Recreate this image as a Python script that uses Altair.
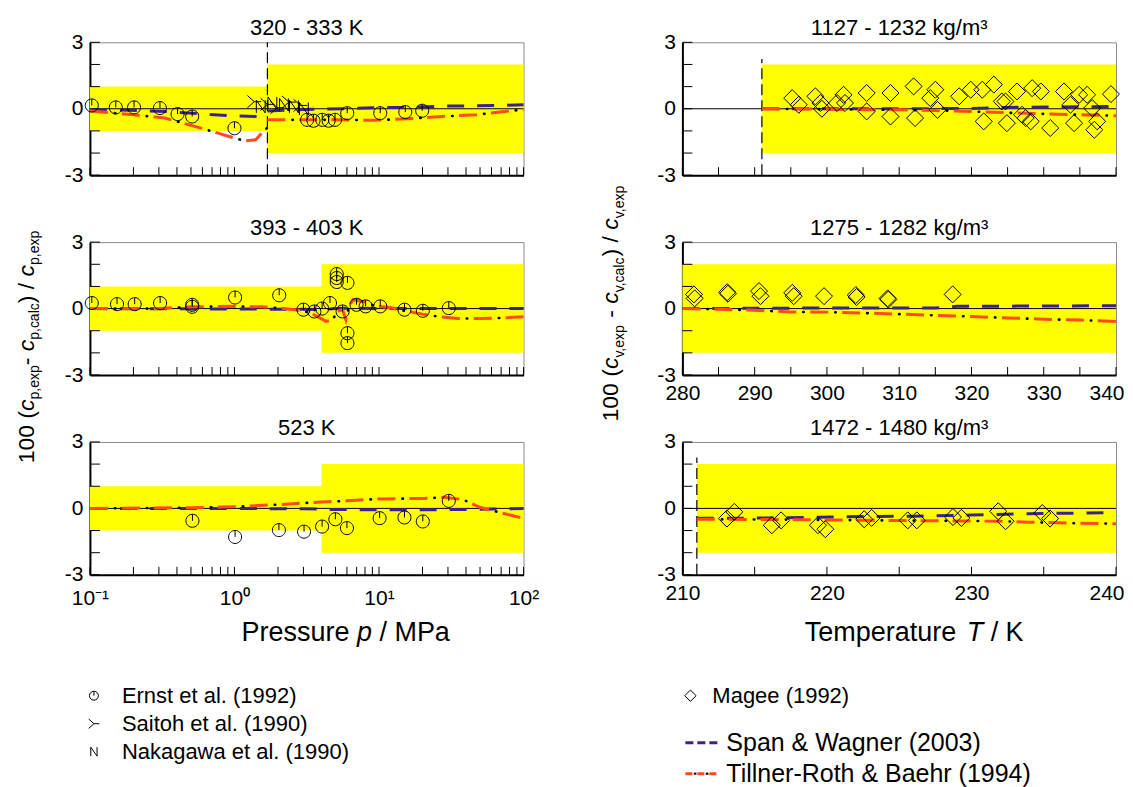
import altair as alt
import pandas as pd

FONT = "Liberation Sans"
YELLOW = "#FFFF00"
SW_COLOR = "#3B2190"
TRB_COLOR = "#FF4A1C"
W, H = 434, 133

# ---------------- data ----------------
# left column: c_p deviations vs pressure (MPa)
l1_title = "320 - 333 K"
l1_ernst_p = [0.103, 0.151, 0.202, 0.305, 0.404, 0.51, 1.0, 3.18, 3.52, 4.05, 4.48, 4.96, 6.03, 10.2, 15.2, 19.9]
l1_ernst_d = [0.15, 0.06, 0.06, 0.03, -0.24, -0.35, -0.88, -0.5, -0.54, -0.5, -0.54, -0.5, -0.2, -0.2, -0.15, -0.09]
l1_saitoh_p = [1.37, 1.69, 1.98, 2.38, 2.86]
l1_saitoh_d = [0.32, 0.2, 0.05, 0.3, 0.15]
l1_nakagawa_p = [1.52, 1.83, 2.2, 2.58, 3.02]
l1_nakagawa_d = [0.1, 0.25, 0.18, 0.1, 0.0]
l1_sw_gas_p = [0.1, 0.15, 0.33, 0.58, 0.97, 1.52, 1.69]
l1_sw_gas_d = [-0.05, -0.05, -0.12, -0.23, -0.32, -0.35, -0.35]
l1_sw_liq_p = [1.69, 2.5, 3.5, 5.6, 9.2, 16, 27, 47, 100]
l1_sw_liq_d = [-0.1, -0.05, -0.02, 0.0, 0.05, 0.06, 0.12, 0.13, 0.18]
l1_trb_gas_p = [0.1, 0.2, 0.33, 0.57, 0.92, 1.17, 1.4, 1.6, 1.69]
l1_trb_gas_d = [-0.1, -0.27, -0.42, -0.85, -1.25, -1.45, -1.4, -1.0, -0.85]
l1_trb_liq_p = [1.69, 3, 5.5, 9.2, 16, 27, 47, 86, 100]
l1_trb_liq_d = [-0.5, -0.5, -0.5, -0.52, -0.45, -0.35, -0.27, -0.08, -0.04]
l1_psat = 1.69
l1_band_x0 = [0.1, 1.69]
l1_band_x1 = [1.69, 100]
l1_band_u = [1, 2]

l2_title = "393 - 403 K"
l2_ernst_p = [0.103, 0.154, 0.204, 0.306, 0.51, 0.51, 1.01, 2.04, 3.0, 3.57, 4.04, 4.58, 5.1, 5.1, 5.1,
              6.05, 5.6, 6.05, 6.05, 6.99, 8.08, 10.2, 15.0, 20.1, 30.4]
l2_ernst_d = [0.25, 0.2, 0.2, 0.25, 0.17, 0.08, 0.5, 0.6, -0.05, -0.13, 0.0, 0.25, 1.56, 1.38, 1.2,
              1.16, -0.13, -1.11, -1.56, 0.17, 0.1, 0.1, -0.05, -0.1, 0.02]
l2_sw_p = [0.1, 1, 3, 4, 5, 6, 10, 100]
l2_sw_d = [0, -0.02, -0.03, -0.05, 0, 0.02, 0, 0]
l2_trb_p = [0.1, 0.3, 0.5, 1, 1.5, 2, 3, 3.6, 4.3, 4.8, 5.1, 5.6, 5.9, 6.2, 6.6, 8, 9.5, 12, 15, 20, 25, 35, 50, 70, 100]
l2_trb_d = [0, 0, 0.08, 0.1, 0.08, 0.03, -0.1, -0.3, -0.58, -0.5, -0.15, -0.05, -0.5, 0.1, 0.4, 0.3, 0.1, 0.05,
            -0.1, -0.25, -0.35, -0.45, -0.45, -0.42, -0.37]
l2_band_x0 = [0.1, 4.0]
l2_band_x1 = [4.0, 100]
l2_band_u = [1, 2]

l3_title = "523 K"
l3_ernst_p = [0.512, 1.01, 2.03, 3.03, 4.04, 4.99, 6.0, 10.1, 15.0, 20.1, 30.4]
l3_ernst_d = [-0.56, -1.29, -0.98, -1.05, -0.82, -0.49, -0.89, -0.44, -0.41, -0.59, 0.34]
l3_sw_p = [0.1, 1, 3, 5, 10, 20, 40, 60, 100]
l3_sw_d = [0, 0, -0.02, -0.05, -0.06, -0.06, -0.05, -0.03, 0]
l3_trb_p = [0.1, 0.5, 1, 2, 4, 6, 10, 20, 28, 38, 50, 70, 100]
l3_trb_d = [0, 0.03, 0.08, 0.17, 0.29, 0.34, 0.43, 0.45, 0.5, 0.4, 0.05, -0.2, -0.45]
l3_band_x0 = [0.1, 4.0]
l3_band_x1 = [4.0, 100]
l3_band_u = [1, 2]

# right column: c_v deviations vs temperature (K)
r1_title = "1127 - 1232 kg/m\u00b3"
r1_magee_T = [295.2, 296.1, 298.4, 299.1, 299.3, 301.4, 302.3, 302.5, 305.5, 305.5, 308.8, 308.8, 312.0, 312.2,
              314.3, 315.0, 315.3, 318.3, 319.9, 321.5, 321.7, 323.1, 324.2, 324.7, 324.9, 326.3, 327.0, 327.5,
              328.2, 328.4, 329.6, 330.9, 332.8, 333.7, 334.2, 334.9, 336.0, 336.7, 337.0, 337.4, 339.3]
r1_magee_d = [0.48, 0.18, 0.56, 0.26, 0.0, 0.26, 0.63, 0.26, 0.71, -0.12, 0.71, -0.35, 1.01, -0.42, 0.48, 0.86,
              -0.05, 0.56, 0.86, 0.86, -0.57, 1.09, 0.33, 0.33, -0.65, 0.78, -0.27, -0.42, -0.57, 0.93, 0.78,
              -0.87, 0.78, 0.18, -0.65, 0.63, 0.63, 0.03, -0.95, -0.57, 0.66]
r1_sw_T = [291, 305, 320, 325, 340]
r1_sw_d = [0, 0, 0.01, 0.06, 0.1]
r1_trb_T = [291, 300, 305, 310, 315, 320, 325, 330, 335, 340]
r1_trb_d = [0, -0.02, -0.04, -0.05, -0.08, -0.12, -0.18, -0.23, -0.27, -0.32]
r1_tlim = 291
r1_band_x0 = [291]
r1_band_x1 = [340]
r1_band_u = [2]

r2_title = "1275 - 1282 kg/m\u00b3"
r2_magee_T = [281.6, 281.7, 286.2, 286.3, 290.6, 290.8, 295.2, 295.4, 299.6, 304.0, 304.1, 308.4, 308.5, 317.4]
r2_magee_d = [0.64, 0.46, 0.74, 0.67, 0.79, 0.56, 0.71, 0.56, 0.56, 0.61, 0.52, 0.46, 0.41, 0.64]
r2_sw_T = [280, 295, 315, 318, 340]
r2_sw_d = [0, 0.02, 0.03, 0.1, 0.13]
r2_trb_T = [280, 285, 290, 295, 300, 305, 310, 315, 320, 325, 330, 335, 340]
r2_trb_d = [0, -0.03, -0.08, -0.15, -0.16, -0.2, -0.25, -0.31, -0.36, -0.42, -0.48, -0.52, -0.58]
r2_band_x0 = [280]
r2_band_x1 = [340]
r2_band_u = [2]

r3_title = "1472 - 1480 kg/m\u00b3"
r3_magee_T = [213.08, 213.59, 216.19, 216.83, 219.38, 219.89, 222.58, 223.09, 225.59, 226.22, 228.72, 229.30,
              231.85, 232.36, 234.9, 235.44]
r3_magee_d = [-0.46, -0.16, -0.76, -0.54, -0.76, -0.94, -0.49, -0.43, -0.54, -0.54, -0.39, -0.43, -0.13,
              -0.58, -0.21, -0.46]
r3_sw_T = [211, 217, 221, 226, 230, 234, 240]
r3_sw_d = [-0.45, -0.43, -0.38, -0.35, -0.3, -0.24, -0.19]
r3_trb_T = [211, 216, 222, 226, 232, 234, 237, 240]
r3_trb_d = [-0.49, -0.5, -0.53, -0.55, -0.58, -0.62, -0.67, -0.69]
r3_tlim = 211
r3_band_x0 = [211]
r3_band_x1 = [240]
r3_band_u = [2]

# tick positions
log_ticks = [0.1, 0.2, 0.3, 0.4, 0.5, 0.6, 0.7, 0.8, 0.9, 1, 2, 3, 4, 5, 6, 7, 8, 9,
             10, 20, 30, 40, 50, 60, 70, 80, 90, 100]
log_labels = [0.1, 1, 10, 100]
r12_ticks = [280, 285, 290, 295, 300, 305, 310, 315, 320, 325, 330, 335, 340]
r12_labels = [280, 290, 300, 310, 320, 330, 340]
r3_ticks = [210, 215, 220, 225, 230, 235, 240]
r3_labels = [210, 220, 230, 240]
y_ticks = [-3, -2, -1, 0, 1, 2, 3]
y_labels = [-3, 0, 3]

legend_left = ["Ernst et al. (1992)", "Saitoh et al. (1990)", "Nakagawa et al. (1990)"]
legend_right = ["Magee (1992)", "Span & Wagner (2003)", "Tillner-Roth & Baehr (1994)"]

# ---------------- helpers ----------------
ERNST = "M-1,0A1,1,0,1,1,1,0A1,1,0,1,1,-1,0ZM0,-1L0,0"
SAITOH = "M-1,-0.9L0,0L-1,0.9M0,0L1,0"
NAKAGAWA = "M-0.7,1L-0.7,-1L0.7,1L0.7,-1"

YS = alt.Scale(domain=[-3, 3], nice=False, zero=False)
LOGS = alt.Scale(type="log", domain=[0.1, 100], nice=False)
R12S = alt.Scale(domain=[280, 340], nice=False, zero=False)
R3S = alt.Scale(domain=[210, 240], nice=False, zero=False)
ONE = pd.DataFrame({"k": [0]})

AW = {"0": .556, "1": .556, "2": .556, "3": .556, "4": .556, "5": .556, "6": .556, "7": .556, "8": .556,
      "9": .556, " ": .278, "(": .333, ")": .333, "/": .278, "-": .333, ",": .278, "c": .5, "p": .556,
      "e": .556, "x": .5, "a": .556, "l": .222, "v": .5, "P": .667, "r": .333, "s": .5, "u": .556,
      "M": .833, "T": .611, "m": .833, "t": .278, "K": .667}


def tw(s, size):
    return sum(AW.get(ch, 0.556) for ch in s) * size


def axis_common(**kw):
    base = dict(ticks=False, grid=False, domainColor="black", domainWidth=2, labelFont=FONT,
                labelFontSize=21, labelColor="black", labelFlush=False, labelOverlap=False, title=None)
    base.update(kw)
    return alt.Axis(**base)


YAX = axis_common(values=y_labels, labelPadding=7, labelExpr="datum.value < 0 ? '-3' : datum.label")


def line_df(segs):
    rows = []
    for k, (xs, ds) in enumerate(segs):
        for i, (x, d) in enumerate(zip(xs, ds)):
            rows.append({"x": x, "y": d, "seg": k, "i": i})
    return pd.DataFrame(rows)


def txt(text, x, y, size, style="normal", angle=0, align="left", baseline="alphabetic"):
    return alt.Chart(ONE).mark_text(text=text, font=FONT, fontSize=size, fontStyle=style, angle=angle,
                                    align=align, baseline=baseline, color="black").encode(
        x=alt.value(x), y=alt.value(y))


def panel(title, xs, xax, band, ticks, sw_segs, trb_segs, markers, vline=None, extra=()):
    x0, x1, u = band
    bdf = pd.DataFrame({"x0": x0, "x1": x1, "lo": [-v for v in u], "hi": u})
    X = lambda f: alt.X(f, scale=xs, axis=xax)
    Y = lambda f: alt.Y(f, scale=YS, axis=YAX)
    layers = [
        alt.Chart(bdf).mark_rect(color=YELLOW).encode(x=X("x0:Q"), x2="x1:Q", y=Y("lo:Q"), y2="hi:Q"),
        alt.Chart(pd.DataFrame({"v": [0]})).mark_rule(color="black", strokeWidth=1).encode(y=Y("v:Q")),
        alt.Chart(pd.DataFrame({"t": ticks})).mark_rule(color="black", strokeWidth=1).encode(
            x=X("t:Q"), y=alt.value(H), y2=alt.value(H - 8)),
        alt.Chart(pd.DataFrame({"t": y_ticks})).mark_rule(color="black", strokeWidth=1).encode(
            y=Y("t:Q"), x=alt.value(0), x2=alt.value(10)),
    ]
    if vline is not None:
        vx, vtop = vline
        layers.append(alt.Chart(pd.DataFrame({"x": [vx], "a": [-3], "b": [vtop]})).mark_rule(
            color="black", strokeWidth=1.2, strokeDash=[11, 5]).encode(x=X("x:Q"), y=Y("a:Q"), y2="b:Q"))
    sdf = line_df(sw_segs)
    tdf = line_df(trb_segs)
    enc = dict(x=X("x:Q"), y=Y("y:Q"), detail="seg:N", order="i:Q")
    layers.append(alt.Chart(sdf).mark_line(color=SW_COLOR, strokeWidth=3, strokeDash=[17, 13]).encode(**enc))
    layers.append(alt.Chart(tdf).mark_line(color=TRB_COLOR, strokeWidth=3, strokeDash=[18, 14]).encode(**enc))
    layers.append(alt.Chart(tdf).mark_line(color="black", strokeWidth=2.6, strokeDash=[0.5, 31.5],
                                           strokeDashOffset=7, strokeCap="round").encode(**enc))
    for xsv, dsv, shape, size in markers:
        mdf = pd.DataFrame({"x": xsv, "y": dsv})
        layers.append(alt.Chart(mdf).mark_point(shape=shape, size=size, filled=False, color="black",
                                                strokeWidth=1, opacity=1).encode(x=X("x:Q"), y=Y("y:Q")))
    layers.append(txt(title, W / 2, -7, 22, align="center"))
    layers.extend(extra)
    return alt.layer(*layers).properties(width=W, height=H)


def placed(text, x, y, size, style, angle):
    # leading spaces are collapsed by SVG, so advance past them explicitly
    lead = len(text) - len(text.lstrip(" "))
    adv = tw(text[:lead], size)
    if angle == 270:
        return txt(text.strip(" "), x, y - adv, size, style=style, angle=270)
    return txt(text.strip(" "), x + adv, y, size, style=style)


def ytitle(sym, cx_main, cx_sub, cy, main=23, sub=14):
    pieces = [("100 (", main, "normal", False), ("c", main, "italic", False), (sym + ",exp", sub, "normal", True),
              ("- " if sym == "p" else " - ", main, "normal", False), ("c", main, "italic", False),
              (sym + ",calc", sub, "normal", True), (") / ", main, "normal", False),
              ("c", main, "italic", False), (sym + ",exp", sub, "normal", True)]
    total = sum(tw(p[0], p[1]) for p in pieces)
    y = cy + total / 2
    out = []
    for text, size, style, is_sub in pieces:
        out.append(placed(text, cx_sub if is_sub else cx_main, y, size, style, 270))
        y -= tw(text, size)
    return out


def xtitle(a, b, c, cx, base_y, size=27):
    pieces = [(a, "normal"), (b, "italic"), (c, "normal")]
    total = sum(tw(p[0], size) for p in pieces)
    x = cx - total / 2
    out = []
    for text, style in pieces:
        out.append(placed(text, x, base_y, size, style, 0))
        x += tw(text, size)
    return out


def last_label_inside(vmax):
    # keep the right-most tick label inside the page edge
    test = "datum.value >= %g" % vmax
    return dict(labelAlign={"condition": {"test": test, "value": "right"}, "value": "center"},
                labelOffset={"condition": {"test": test, "value": 8}, "value": 0})


# ---------------- panels ----------------
log_expr = ("datum.value < 0.5 ? '10\u207b\u00b9' : datum.value < 5 ? '10\u2070' : "
            "datum.value < 50 ? '10\u00b9' : '10\u00b2'")
LX_hidden = axis_common(values=log_labels, labels=False)
LX_shown = axis_common(values=log_labels, labelPadding=13, labelExpr=log_expr)
R12_hidden = axis_common(values=r12_labels, labels=False)
R12_shown = axis_common(values=r12_labels, labelPadding=8, **last_label_inside(340))
R3_shown = axis_common(values=r3_labels, labelPadding=8, **last_label_inside(240))

anchor = alt.Chart(ONE).mark_rect(color="white").encode(
    x=alt.value(-81), x2=alt.value(-80), y=alt.value(-33), y2=alt.value(-32))

p_l1 = panel(l1_title, LOGS, LX_hidden, (l1_band_x0, l1_band_x1, l1_band_u), log_ticks,
             [(l1_sw_gas_p, l1_sw_gas_d), (l1_sw_liq_p, l1_sw_liq_d)],
             [(l1_trb_gas_p, l1_trb_gas_d), (l1_trb_liq_p, l1_trb_liq_d)],
             [(l1_ernst_p, l1_ernst_d, ERNST, 170), (l1_saitoh_p, l1_saitoh_d, SAITOH, 190),
              (l1_nakagawa_p, l1_nakagawa_d, NAKAGAWA, 160)],
             vline=(l1_psat, 3), extra=[anchor])

p_l2 = panel(l2_title, LOGS, LX_hidden, (l2_band_x0, l2_band_x1, l2_band_u), log_ticks,
             [(l2_sw_p, l2_sw_d)], [(l2_trb_p, l2_trb_d)],
             [(l2_ernst_p, l2_ernst_d, ERNST, 170)],
             extra=ytitle("p", -55.7, -50.5, 105))

leg_l = [
    alt.Chart(ONE).mark_point(shape=ERNST, size=80, filled=False, color="black", strokeWidth=1, opacity=1).encode(
        x=alt.value(4), y=alt.value(254)),
    alt.Chart(ONE).mark_point(shape=SAITOH, size=110, filled=False, color="black", strokeWidth=1, opacity=1).encode(
        x=alt.value(4), y=alt.value(282)),
    alt.Chart(ONE).mark_point(shape=NAKAGAWA, size=80, filled=False, color="black", strokeWidth=1, opacity=1).encode(
        x=alt.value(4), y=alt.value(310)),
    txt(legend_left[0], 32, 254, 22, baseline="middle"),
    txt(legend_left[1], 32, 282, 22, baseline="middle"),
    txt(legend_left[2], 32, 310, 22, baseline="middle"),
]

p_l3 = panel(l3_title, LOGS, LX_shown, (l3_band_x0, l3_band_x1, l3_band_u), log_ticks,
             [(l3_sw_p, l3_sw_d)], [(l3_trb_p, l3_trb_d)],
             [(l3_ernst_p, l3_ernst_d, ERNST, 170)],
             extra=xtitle("Pressure ", "p", " / MPa", 256, 199) + leg_l)

p_r1 = panel(r1_title, R12S, R12_hidden, (r1_band_x0, r1_band_x1, r1_band_u), r12_ticks,
             [(r1_sw_T, r1_sw_d)], [(r1_trb_T, r1_trb_d)],
             [(r1_magee_T, r1_magee_d, "diamond", 290)],
             vline=(r1_tlim, 2.25))

p_r2 = panel(r2_title, R12S, R12_shown, (r2_band_x0, r2_band_x1, r2_band_u), r12_ticks,
             [(r2_sw_T, r2_sw_d)], [(r2_trb_T, r2_trb_d)],
             [(r2_magee_T, r2_magee_d, "diamond", 290)],
             extra=ytitle("v", -64, -58.5, 61))

leg_r = [
    alt.Chart(ONE).mark_point(shape="diamond", size=130, filled=False, color="black", strokeWidth=1,
                              opacity=1).encode(x=alt.value(8), y=alt.value(254)),
    txt(legend_right[0], 30, 254, 22, baseline="middle"),
    alt.Chart(ONE).mark_rule(color=SW_COLOR, strokeWidth=3, strokeDash=[8, 4]).encode(
        x=alt.value(3), x2=alt.value(36), y=alt.value(301)),
    txt(legend_right[1], 44, 301, 25, baseline="middle"),
    alt.Chart(ONE).mark_rule(color=TRB_COLOR, strokeWidth=3, strokeDash=[7, 5]).encode(
        x=alt.value(3), x2=alt.value(36), y=alt.value(332)),
    alt.Chart(ONE).mark_rule(color="black", strokeWidth=2.4, strokeDash=[0.5, 11.5], strokeDashOffset=2.5,
                             strokeCap="round").encode(
        x=alt.value(3), x2=alt.value(36), y=alt.value(332)),
    txt(legend_right[2], 44, 332, 25, baseline="middle"),
]

p_r3 = panel(r3_title, R3S, R3_shown, (r3_band_x0, r3_band_x1, r3_band_u), r3_ticks,
             [(r3_sw_T, r3_sw_d)], [(r3_trb_T, r3_trb_d)],
             [(r3_magee_T, r3_magee_d, "diamond", 290)],
             vline=(r3_tlim, 2.3),
             extra=xtitle("Temperature ", "T", " / K", 232, 199) + leg_r)

chart = alt.concat(p_l1, p_r1, p_l2, p_r2, p_l3, p_r3, columns=2,
                   spacing={"row": 67, "column": 159}, bounds="flush").properties(
    padding=0, background="white"
).configure_view(stroke="#8a8a8a", strokeWidth=1)

chart.save("out.html", embed_options={"renderer": "svg", "actions": False})
